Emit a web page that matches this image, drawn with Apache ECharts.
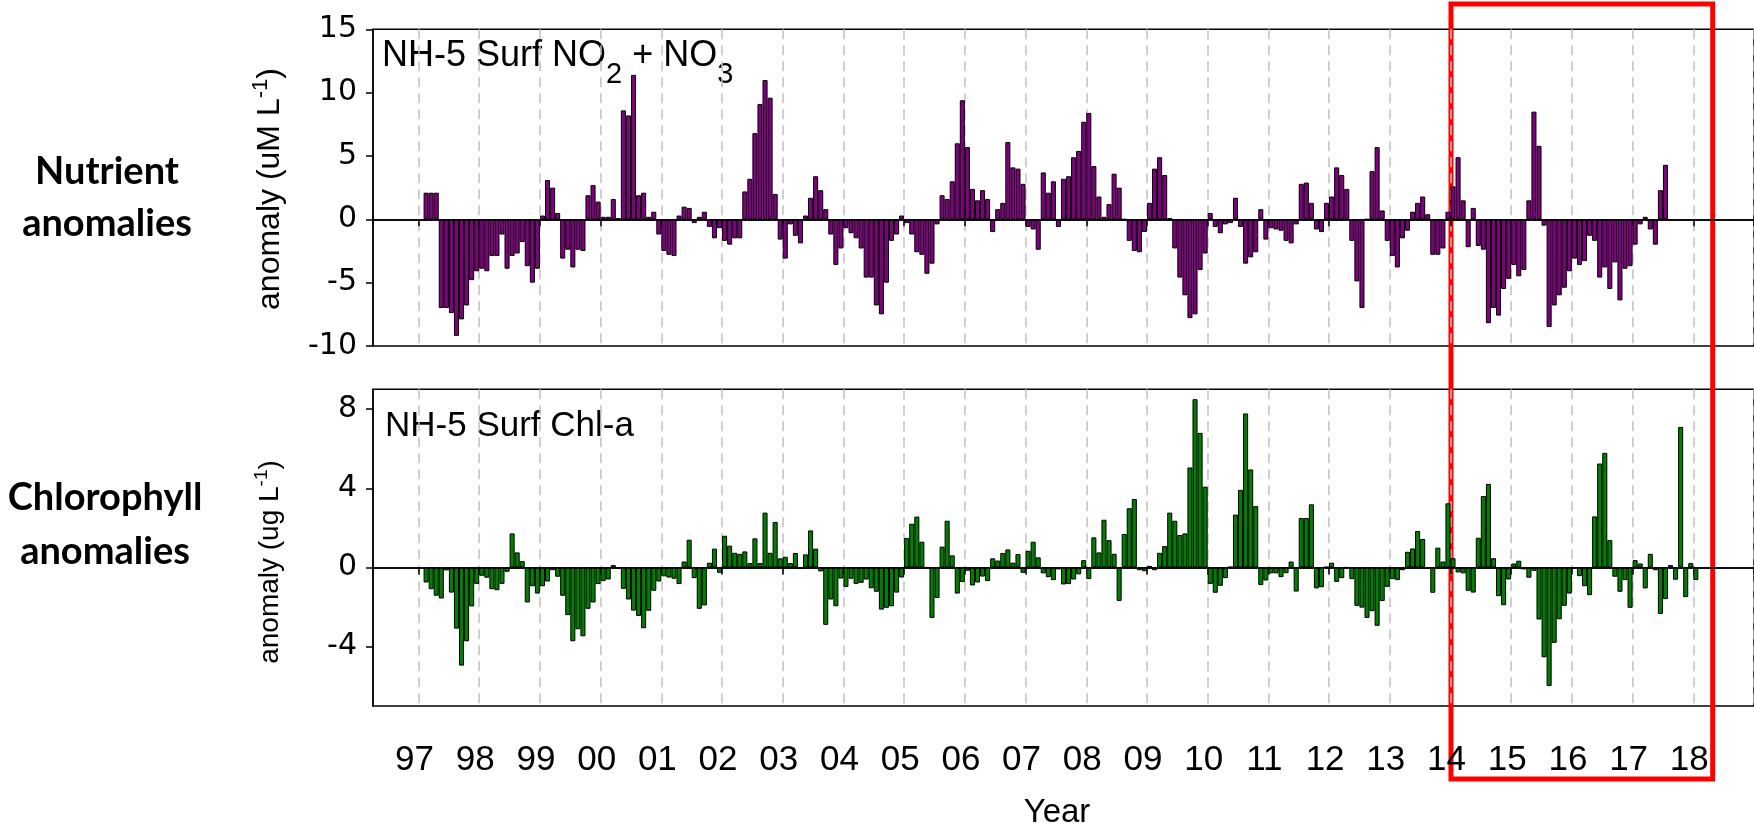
<!DOCTYPE html>
<html>
<head>
<meta charset="utf-8">
<script src="https://cdn.jsdelivr.net/npm/echarts@6/dist/echarts.min.js"></script>
<style>
  html, body { margin: 0; padding: 0; background: #fff; }
  #chart { width: 1754px; height: 833px; }
</style>
</head>
<body>
<div id="chart"></div>
<script>
// Monthly surface anomalies at station NH-5, one row per calendar year.
// Both records start in February 1997.
const seriesStart = { year: 1997, month: 2 };

// NO2 + NO3 anomaly (uM L-1)
const nitrateAnomaly = [
  [2.1, 2.1, 2.1, -7.0, -7.0, -7.4, -9.2, -7.9, -6.8, -4.8, -4.1],            // 1997 (Feb-Dec)
  [-3.9, -4.1, -2.9, -2.9, -1.2, -3.9, -2.9, -2.7, -1.8, -3.7, -5.0, -3.9],   // 1998
  [0.3, 3.1, 2.5, 0.5, -3.1, -2.4, -3.8, -2.4, -2.5, 1.9, 2.7, 1.4],          // 1999
  [0.2, 0.2, 1.6, 0.1, 8.6, 8.2, 11.4, 1.9, 2.1, 0.2, 0.6, -1.2],             // 2000
  [-2.5, -2.8, -2.9, 0.3, 1.0, 0.9, -0.3, 0.2, 0.6, -0.6, -1.5, -0.7],        // 2001
  [-1.7, -2.0, -1.5, -1.5, 2.2, 3.2, 6.8, 9.1, 11.0, 9.6, 2.0, -1.6],         // 2002
  [-3.1, -0.4, -1.3, -1.9, 0.3, 1.7, 3.4, 2.3, 0.8, -1.2, -3.6, -2.3],        // 2003
  [-0.7, -1.1, -1.5, -2.3, -4.6, -4.6, -6.8, -7.5, -5.0, -1.7, -1.2, 0.3],    // 2004
  [-0.3, -1.2, -2.6, -2.8, -4.3, -3.5, -0.4, 1.9, 1.6, 3.0, 6.0, 9.4],        // 2005
  [5.7, 2.4, 1.5, 2.3, 1.6, -1.0, 0.8, 1.3, 6.1, 4.1, 4.0, 2.8],              // 2006
  [-0.6, -0.8, -2.4, 3.7, 2.1, 3.0, -0.6, 3.2, 3.4, 4.9, 5.4, 7.7],           // 2007
  [8.4, 4.2, 1.8, 0.2, 1.2, 3.6, 2.5, 0.0, -1.7, -2.5, -2.6, -1.0],           // 2008
  [1.3, 4.0, 4.9, 3.5, 0.1, -2.3, -4.6, -6.0, -7.8, -7.5, -4.0, -2.7],        // 2009
  [0.5, -0.6, -1.1, -0.4, -0.3, 1.7, -0.6, -3.5, -3.0, -2.6, 0.8, -1.6],      // 2010
  [-0.7, -0.8, -0.9, -1.7, -1.9, -0.4, 2.8, 2.9, 1.3, -0.8, -1.0, 1.3],       // 2011
  [1.8, 4.1, 3.5, 2.4, -1.7, -4.9, -7.0, 0.0, 3.8, 5.7, 0.7, -1.7],           // 2012
  [-2.9, -3.8, -1.5, -0.9, 0.6, 1.3, 1.8, 0.4, -2.8, -2.8, -2.3, 0.6],        // 2013
  [2.6, 4.9, 1.5, -2.2, 0.9, -2.1, -2.4, -8.2, -7.0, -7.6, -5.5, -4.7],       // 2014
  [-3.6, -4.5, -4.0, 1.5, 8.5, 5.8, -0.5, -8.5, -6.8, -6.0, -5.4, -4.1],      // 2015
  [-3.1, -3.6, -3.3, -1.3, -1.7, -4.6, -3.8, -5.5, -3.4, -6.4, -3.9, -3.7],   // 2016
  [-2.0, -0.4, 0.2, -0.8, -2.0, 2.3, 4.3]                                     // 2017 (Jan-Jul)
];

// Chlorophyll-a anomaly (ug L-1)
const chlAnomaly = [
  [-0.76, -1.1, -1.43, -1.57, -0.15, -1.27, -3.09, -4.96, -3.73, -1.97, -0.83],          // 1997 (Feb-Dec)
  [-0.42, -0.52, -1.1, -1.15, -0.83, -0.22, 1.72, 0.76, 0.32, -1.77, -0.95, -1.32],      // 1998
  [-0.95, -0.71, -0.14, -0.47, -1.43, -2.41, -3.73, -3.12, -3.48, -2.09, -1.77, -0.84],  // 1999
  [-0.69, -0.61, 0.12, -0.08, -1.08, -1.62, -2.18, -2.45, -3.07, -2.19, -1.18, -0.71],   // 2000
  [-0.45, -0.51, -0.57, -0.84, 0.30, 1.40, -0.54, -2.09, -1.92, 0.24, 0.95, -0.27],      // 2001
  [1.6, 1.1, 0.74, 0.69, 0.81, 0.22, 1.47, 0.22, 2.77, 0.74, 2.3, 0.46],                 // 2002
  [0.54, 0.22, 0.73, -0.08, 0.66, 1.87, 0.95, -0.2, -2.9, -1.62, -1.96, -0.56],          // 2003
  [-0.98, -0.57, -0.83, -0.78, -0.61, -1.05, -1.23, -2.13, -2.04, -1.96, -1.27, -0.51],  // 2004
  [1.49, 2.21, 2.57, 1.3, 0.0, -2.55, -1.54, 1.05, 2.36, 0.61, -1.32, -0.74],            // 2005
  [-0.17, -0.91, -0.76, -0.46, -0.69, 0.46, 0.35, 0.73, 0.91, 0.24, 0.68, -0.27],        // 2006
  [0.84, 1.3, 0.51, -0.3, -0.49, -0.64, -0.1, -0.86, -0.84, -0.61, -0.35, 0.37],         // 2007
  [-0.59, 1.52, 0.76, 2.41, 1.38, 0.69, -1.69, 1.69, 2.99, 3.46, -0.14, -0.19],          // 2008
  [0.08, -0.14, 0.74, 1.08, 2.77, 2.36, 1.64, 1.72, 5.05, 8.5, 6.8, 4.08],               // 2009
  [-0.83, -1.28, -0.93, -0.54, 0.03, 2.67, 3.92, 7.78, 4.95, 3.1, -0.89, -0.66],         // 2010
  [-0.3, -0.3, -0.49, -0.29, 0.3, -1.22, 2.5, 2.5, 3.19, -1.06, -1.0, 0.03],             // 2011
  [0.24, -0.73, -0.54, 0.0, -0.59, -1.94, -2.03, -2.55, -2.21, -2.95, -1.7, -0.98],      // 2012
  [-0.59, -0.64, -0.14, 0.79, 0.96, 1.84, 1.44, -0.07, -1.28, 1.0, 0.3, 3.24],           // 2013
  [0.47, -0.25, -0.3, -1.18, -1.27, 1.5, 3.61, 4.22, 0.47, -1.45, -1.91, -0.61],         // 2014
  [0.2, 0.34, -0.1, -0.52, -0.17, -2.63, -4.54, -5.99, -3.81, -2.62, -1.94, -1.32],      // 2015
  [-0.05, -0.44, -0.95, -1.4, 2.58, 5.25, 5.79, 1.38, -0.47, -1.23, -0.64, -2.04],       // 2016
  [0.37, 0.2, -1.06, 0.69, -0.14, -2.35, -1.6, 0.12, -0.62, 7.1, -1.5, 0.22],            // 2017
  [-0.64]                                                                                // 2018 (Jan)
];

// Year tick labels, one per January from 1997 to 2018
const yearTickLabels = ['97', '98', '99', '00', '01', '02', '03', '04', '05', '06', '07',
                        '08', '09', '10', '11', '12', '13', '14', '15', '16', '17', '18'];

// Value-axis ticks
const nitrateTicks = [-10, -5, 0, 5, 10, 15];
const chlTicks = [-4, 0, 4, 8];

// Time axis: one category per month, April 1996 through December 2018
const axisFirst = { year: 1996, month: 4 };
const axisLast = { year: 2018, month: 12 };
const months = [];
for (let y = axisFirst.year; y <= axisLast.year; y++) {
  for (let m = 1; m <= 12; m++) {
    if (y === axisFirst.year && m < axisFirst.month) continue;
    months.push(y + '-' + String(m).padStart(2, '0'));
  }
}
const isJanuary = (i, v) => (v || months[i]).endsWith('-01');
const yearLabelOf = v => yearTickLabels[Number(v.slice(0, 4)) - 1997] || '';

function onMonthAxis(rows) {
  const flat = rows.flat();
  const offset = (seriesStart.year - axisFirst.year) * 12 + (seriesStart.month - axisFirst.month);
  return months.map((_, i) => {
    const k = i - offset;
    return k >= 0 && k < flat.length ? flat[k] : null;
  });
}

const sans = "'Liberation Sans', Arial, sans-serif";
const wide = "'DejaVu Sans', Verdana, sans-serif";
const boldFace = "Lato, 'Open Sans', sans-serif";

const plotLeft = 373;
const plotWidth = 1392.6;
const panels = [{ top: 29.3, height: 316.7 }, { top: 389.3, height: 316.7 }];

function monthAxis(gridIndex, withLabels) {
  return {
    type: 'category', gridIndex, data: months, boundaryGap: true,
    axisLine: { show: true, lineStyle: { color: '#000', width: 1.5 } },
    axisTick: { show: true, interval: isJanuary, length: 7, lineStyle: { color: '#000', width: 1.5 } },
    axisLabel: {
      show: withLabels, interval: isJanuary, formatter: yearLabelOf,
      color: '#000', fontFamily: sans, fontSize: 35, margin: 37,
      padding: [0, 13, 0, 0]
    },
    splitLine: { show: true, interval: isJanuary, lineStyle: { color: '#c0c0c0', width: 1.5, type: [10, 6] } }
  };
}

function valueAxis(gridIndex, min, max, ticks) {
  return {
    type: 'value', gridIndex, min, max,
    axisLine: { show: true, lineStyle: { color: '#000', width: 1.5 } },
    axisTick: { show: true, length: 7, customValues: ticks, lineStyle: { color: '#000', width: 1.5 } },
    axisLabel: { customValues: ticks, color: '#000', fontFamily: wide, fontSize: 30, margin: 16 },
    splitLine: { show: false }
  };
}

function barSeries(axisIndex, rows, fill) {
  return {
    type: 'bar', xAxisIndex: axisIndex, yAxisIndex: axisIndex,
    data: onMonthAxis(rows),
    barCategoryGap: '0%', barGap: '0%',
    itemStyle: { color: fill, borderColor: '#000', borderWidth: 1 },
    silent: true,
    markLine: {
      silent: true, symbol: 'none', label: { show: false },
      lineStyle: { color: '#000', width: 1.5, type: 'solid' },
      data: [{ yAxis: 0 }]
    }
  };
}

function unitLabel(text, x, y, size) {
  return {
    type: 'text', x, y, rotation: Math.PI / 2,
    style: {
      text, align: 'center', verticalAlign: 'middle',
      rich: {
        t: { fontFamily: sans, fontSize: size, verticalAlign: 'bottom', fill: '#000' },
        p: { fontFamily: sans, fontSize: Math.round(size * 0.68), padding: [0, 0, Math.round(size * 0.45), 0], verticalAlign: 'bottom', fill: '#000' }
      }
    }
  };
}

const chart = echarts.init(document.getElementById('chart'), null, { renderer: 'canvas' });
chart.setOption({
  animation: false,
  backgroundColor: '#fff',
  grid: panels.map(p => ({
    left: plotLeft, top: p.top, width: plotWidth, height: p.height,
    show: true, borderColor: '#000', borderWidth: 1.5, backgroundColor: 'transparent'
  })),
  xAxis: [monthAxis(0, false), monthAxis(1, true)],
  yAxis: [valueAxis(0, -10, 15, nitrateTicks), valueAxis(1, -7, 9, chlTicks)],
  series: [barSeries(0, nitrateAnomaly, '#800080'), barSeries(1, chlAnomaly, '#008000')],
  graphic: [
    {
      type: 'text', left: 382, top: 38,
      style: {
        text: '{m|NH-5 Surf NO}{s|2}{m| + NO}{s|3}',
        rich: {
          m: { fontFamily: sans, fontSize: 36, lineHeight: 36, verticalAlign: 'top', fill: '#000' },
          s: { fontFamily: sans, fontSize: 29, lineHeight: 29, padding: [22, 0, 0, 0], verticalAlign: 'top', fill: '#000' }
        }
      }
    },
    {
      type: 'text', left: 385, top: 409,
      style: { text: 'NH-5 Surf Chl-a', fontFamily: sans, fontSize: 35, fill: '#000' }
    },
    unitLabel('{t|anomaly (uM L}{p|-1}{t|)}', 268, 189, 32),
    unitLabel('{t|anomaly (ug L}{p|-1}{t|)}', 268, 562, 28),
    {
      type: 'text', x: 107, y: 198,
      style: { text: 'Nutrient\nanomalies', align: 'center', verticalAlign: 'middle',
               fontFamily: boldFace, fontWeight: 'bold', fontSize: 38, lineHeight: 52, fill: '#000' }
    },
    {
      type: 'text', x: 105, y: 525,
      style: { text: 'Chlorophyll\nanomalies', align: 'center', verticalAlign: 'middle',
               fontFamily: boldFace, fontWeight: 'bold', fontSize: 38, lineHeight: 54, fill: '#000' }
    },
    {
      type: 'text', x: 1057, y: 813,
      style: { text: 'Year', align: 'center', verticalAlign: 'middle', fontFamily: sans, fontSize: 33, fill: '#000' }
    },
    {
      type: 'rect', silent: true,
      shape: { x: 1451, y: 4, width: 261.7, height: 775 },
      style: { fill: 'none', stroke: '#ff0000', lineWidth: 5 }
    }
  ]
});
</script>
</body>
</html>
